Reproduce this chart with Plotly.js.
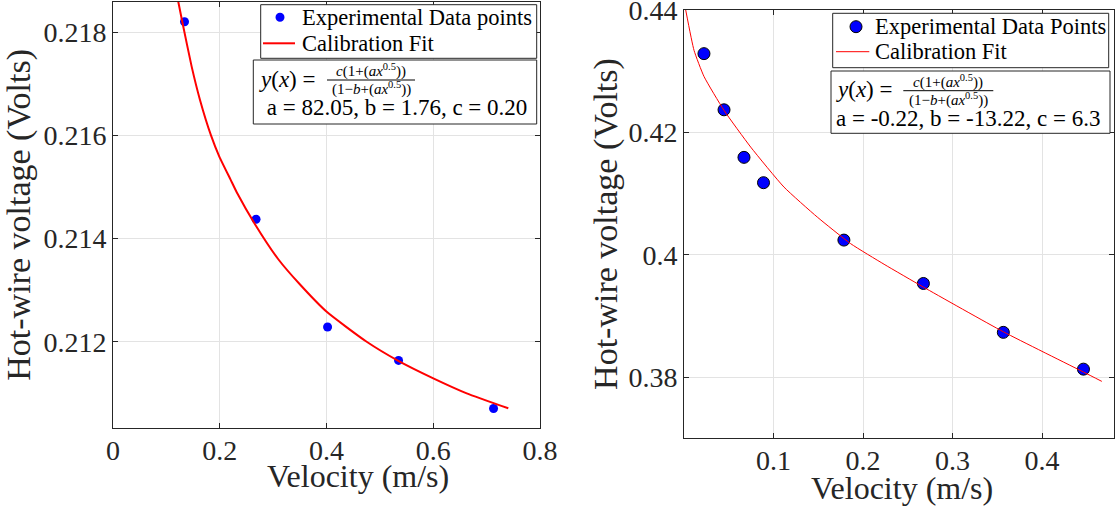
<!DOCTYPE html>
<html>
<head>
<meta charset="utf-8">
<script src="https://cdn.plot.ly/plotly-3.0.1.min.js"></script>
<style>html,body{margin:0;padding:0;background:#fff;}#chart{width:1116px;height:506px;}</style>
</head>
<body>
<div id="chart"></div>
<script>
// ---- Left panel data ----
const leftVelocity = [0.134, 0.268, 0.402, 0.535, 0.713];
const leftVoltage = [0.218205, 0.214376, 0.212287, 0.211638, 0.210707];
const leftFitVelocity = [0.1223, 0.1298, 0.1474, 0.1630, 0.1836, 0.1992, 0.2205, 0.2318, 0.2660, 0.3097, 0.3504, 0.4004, 0.4753, 0.5345, 0.6001, 0.6627, 0.7406];
const leftFitVoltage = [0.218593, 0.218205, 0.217334, 0.216688, 0.216000, 0.215590, 0.215139, 0.214900, 0.214280, 0.213600, 0.213110, 0.212581, 0.212000, 0.211630, 0.211291, 0.211000, 0.210710];
const leftXTicks = [0, 0.2, 0.4, 0.6, 0.8];
const leftXTickText = ['0', '0.2', '0.4', '0.6', '0.8'];
const leftYTicks = [0.212, 0.214, 0.216, 0.218];
const leftYTickText = ['0.212', '0.214', '0.216', '0.218'];

// ---- Right panel data ----
const rightVelocity = [0.0223, 0.0447, 0.0670, 0.0888, 0.1786, 0.2674, 0.3567, 0.4462];
const rightVoltage = [0.43286, 0.42368, 0.41591, 0.41177, 0.40239, 0.39530, 0.38731, 0.38130];
const rightFitVelocity = [0.0019, 0.0112, 0.0223, 0.0447, 0.0745, 0.1117, 0.1489, 0.1862, 0.2235, 0.2674, 0.3568, 0.4462, 0.4667];
const rightFitVoltage = [0.44000, 0.43340, 0.42914, 0.42359, 0.41759, 0.41105, 0.40615, 0.40180, 0.39844, 0.39471, 0.38740, 0.38083, 0.37930];
const rightXTicks = [0.1, 0.2, 0.3, 0.4];
const rightXTickText = ['0.1', '0.2', '0.3', '0.4'];
const rightYTicks = [0.38, 0.40, 0.42, 0.44];
const rightYTickText = ['0.38', '0.4', '0.42', '0.44'];

// ---- Text ----
const xTitle = 'Velocity (m/s)';
const yTitle = 'Hot-wire voltage (Volts)';
const leftLegendNames = ['Experimental Data points', 'Calibration Fit'];
const rightLegendNames = ['Experimental Data Points', 'Calibration Fit'];
const leftParams = '\u00a0a = 82.05, b = 1.76, c = 0.20';
const rightParams = 'a = -0.22, b = -13.22, c = 6.3';
const eqLhs = '<i>y</i>(<i>x</i>) =';
const eqNum = '<i>c</i>(1+(<i>ax</i><sup>0.5</sup>))';
const eqDen = '(1\u2212<i>b</i>+(<i>ax</i><sup>0.5</sup>))';

const W = 1116, H = 506;
const px = v => v / W;
const py = v => 1 - v / H;
const FONT = 'Liberation Serif';
const INK = '#262626';

const traces = [
  {x: leftVelocity, y: leftVoltage, type: 'scatter', mode: 'markers', name: leftLegendNames[0],
   marker: {color: '#0000ff', size: 9, line: {width: 0}}, xaxis: 'x', yaxis: 'y'},
  {x: leftFitVelocity, y: leftFitVoltage, type: 'scatter', mode: 'lines', name: leftLegendNames[1],
   line: {color: '#ff0000', width: 2, shape: 'spline', smoothing: 0.5}, xaxis: 'x', yaxis: 'y'},
  {x: rightVelocity, y: rightVoltage, type: 'scatter', mode: 'markers', name: rightLegendNames[0],
   marker: {color: '#0000ff', size: 12, line: {color: '#000000', width: 1}}, xaxis: 'x2', yaxis: 'y2'},
  {x: rightFitVelocity, y: rightFitVoltage, type: 'scatter', mode: 'lines', name: rightLegendNames[1],
   line: {color: '#ff0000', width: 1, shape: 'spline', smoothing: 0.5}, xaxis: 'x2', yaxis: 'y2'}
];

const axisCommon = {
  showline: true, linecolor: INK, linewidth: 1, mirror: 'ticks',
  ticks: 'inside', ticklen: 5, tickcolor: INK, tickwidth: 1,
  showgrid: true, gridcolor: '#e3e3e3', gridwidth: 1, zeroline: false,
  tickfont: {family: FONT, size: 28, color: INK}, ticklabeloverflow: 'allow'
};

function txt(text, x, y, size, xanchor) {
  return {text: text, xref: 'paper', yref: 'paper', x: px(x), y: py(y), xanchor: xanchor || 'left', yanchor: 'middle',
          showarrow: false, font: {family: FONT, size: size, color: '#000'}};
}
function box(x0, y0, x1, y1) {
  return {type: 'rect', xref: 'paper', yref: 'paper', x0: px(x0), x1: px(x1), y0: py(y1), y1: py(y0),
          line: {color: INK, width: 1}, fillcolor: '#ffffff', layer: 'above'};
}
function hline(x0, x1, y, color, width) {
  return {type: 'line', xref: 'paper', yref: 'paper', x0: px(x0), x1: px(x1), y0: py(y), y1: py(y),
          line: {color: color, width: width}, layer: 'above'};
}
function dot(cx, cy, r, lineColor, lineWidth) {
  return {type: 'circle', xref: 'paper', yref: 'paper', x0: px(cx - r), x1: px(cx + r), y0: py(cy + r), y1: py(cy - r),
          fillcolor: '#0000ff', line: {color: lineColor, width: lineWidth}, layer: 'above'};
}

const layout = {
  width: W, height: H,
  margin: {l: 0, r: 0, t: 0, b: 0},
  paper_bgcolor: '#ffffff', plot_bgcolor: '#ffffff',
  showlegend: false,
  xaxis: Object.assign({}, axisCommon, {domain: [px(113), px(540)], range: [0, 0.8],
    tickmode: 'array', tickvals: leftXTicks, ticktext: leftXTickText, anchor: 'y', ticklabelstandoff: -3}),
  yaxis: Object.assign({}, axisCommon, {domain: [py(428), py(1.7)], range: [0.210328, 0.218593],
    tickmode: 'array', tickvals: leftYTicks, ticktext: leftYTickText, anchor: 'x',
    title: {text: yTitle, font: {family: FONT, size: 34, color: INK}, standoff: 4}}),
  xaxis2: Object.assign({}, axisCommon, {domain: [px(684), px(1114)], range: [0, 0.4803],
    tickmode: 'array', tickvals: rightXTicks, ticktext: rightXTickText, anchor: 'y2', ticklabelstandoff: -3}),
  yaxis2: Object.assign({}, axisCommon, {domain: [py(438.3), py(9.7)], range: [0.37, 0.44004],
    tickmode: 'array', tickvals: rightYTicks, ticktext: rightYTickText, anchor: 'x2',
    title: {text: yTitle, font: {family: FONT, size: 34, color: INK}, standoff: 0}}),
  shapes: [
    // left legend
    box(260.7, 4.7, 536.7, 58.3),
    dot(280, 17.3, 4.5, '#0000ff', 0),
    hline(263, 295, 43.3, '#ff0000', 2),
    // left equation box
    box(253.3, 60, 536.7, 124),
    hline(327, 415, 80, '#000', 1),
    // right legend
    box(832.7, 13.3, 1108.7, 67.7),
    dot(856, 26.7, 6, '#000000', 1),
    hline(836, 869.3, 51.7, '#ff0000', 1),
    // right equation box
    box(831, 71, 1110, 133.3),
    hline(903.3, 993.3, 90.7, '#000', 1)
  ],
  annotations: [
    {text: xTitle, xref: 'paper', yref: 'paper', x: px(358), y: py(476), xanchor: 'center', yanchor: 'middle',
     showarrow: false, font: {family: FONT, size: 32, color: INK}},
    {text: xTitle, xref: 'paper', yref: 'paper', x: px(901.7), y: py(487.6), xanchor: 'center', yanchor: 'middle',
     showarrow: false, font: {family: FONT, size: 32, color: INK}},
    // left legend text
    txt(leftLegendNames[0], 300, 17.3, 22.5),
    txt(leftLegendNames[1], 300, 43.3, 22.5),
    // left equation
    txt(eqLhs, 257, 80, 23),
    txt(eqNum, 371, 71, 15, 'center'),
    txt(eqDen, 371, 89, 15, 'center'),
    txt(leftParams, 259, 107, 23),
    // right legend text
    txt(rightLegendNames[0], 873.3, 26.7, 22.5),
    txt(rightLegendNames[1], 873.3, 51.7, 22.5),
    // right equation
    txt(eqLhs, 834, 90, 23),
    txt(eqNum, 948.3, 81.5, 15, 'center'),
    txt(eqDen, 948.3, 99.5, 15, 'center'),
    txt(rightParams, 834, 118.3, 23)
  ]
};

Plotly.newPlot('chart', traces, layout, {displayModeBar: false, staticPlot: true});
</script>
</body>
</html>
